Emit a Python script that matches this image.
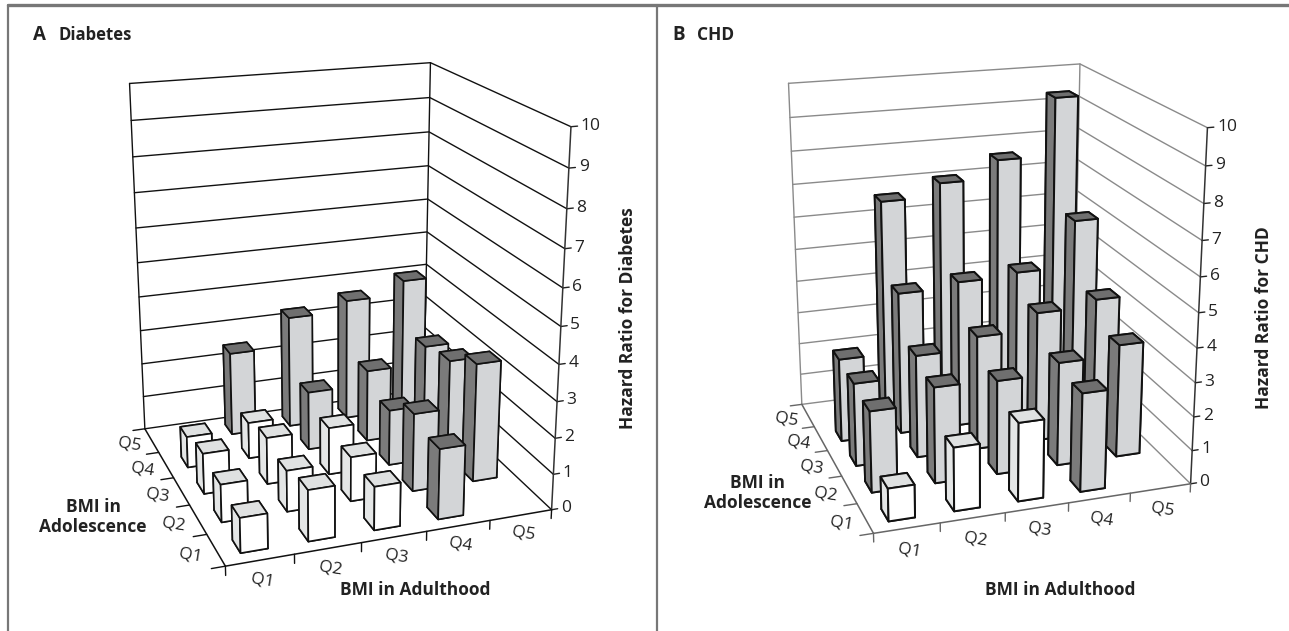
import numpy as np, matplotlib
matplotlib.use('Agg')
import matplotlib.pyplot as plt, seaborn as sns
from matplotlib.lines import Line2D
from mpl_toolkits.mplot3d import proj3d
sns.set_theme(style='white')
plt.rcParams['font.family']=['Open Sans','DejaVu Sans']
W,H=1289,631
adult_labels=['Q1','Q2','Q3','Q4','Q5']
adol_labels=['Q1','Q2','Q3','Q4','Q5']
z_ticks=list(range(11))
nan=np.nan
# rows: BMI in adulthood Q1..Q5; columns: BMI in adolescence Q1..Q5
diabetes=[[.95,1.05,1.15,.9,nan],[1.4,1.15,1.33,1.05,2.45],[1.2,1.25,1.35,1.7,3.3],[1.95,2.2,1.6,2.1,3.6],[nan,3.35,2.8,2.6,4.0]]
chd=[[.95,2.4,2.5,2.55,nan],[1.85,2.85,3.1,4.35,6.6],[2.3,2.8,3.45,4.5,7.0],[2.9,3.1,3.95,4.6,7.55],[nan,3.4,4.15,6.0,9.3]]
diabetes_sig=[[0,0,0,0,0],[0,0,0,0,1],[0,0,0,1,1],[1,1,1,1,1],[0,1,1,1,1]]
chd_sig=[[0,1,1,1,0],[0,1,1,1,1],[0,1,1,1,1],[1,1,1,1,1],[0,1,1,1,1]]
gray_faces=['#888888','#6f6f6f','#d3d5d7','#888888','#7b7b7b','#888888']
white_faces=['#eeeeee','#dfe1e1','#ffffff','#eeeeee','#e4e6e6','#eeeeee']
fig=plt.figure(figsize=(W/100,H/100),dpi=100)
def panel(view,box,vals,sig,wall,floor,front_z,left_x,edge_lw):
    el,az,lf,a,b=view
    L,Ytop,S=box
    ax=fig.add_axes([L/W,1-(Ytop+S)/H,S/W,S/H],projection='3d')
    ax.view_init(el,az);ax.set_proj_type('persp',focal_length=np.exp(lf));ax.set_box_aspect((a,b,1))
    ax.set_axis_off();ax.computed_zorder=False
    ax.set_xlim(0,5);ax.set_ylim(0,5);ax.set_zlim(0,10)
    M=ax.get_proj()
    def label(x,y,z,s,**k):
        xp,yp,_=proj3d.proj_transform(x,y,z,M)
        ax.text2D(float(xp),float(yp),s,transform=ax.transData,fontsize=12.5,color='#222',va='center',zorder=50,**k)
    for z in z_ticks:
        ax.plot([0,5,5],[5,5,0],[z,z,z],color=wall,lw=1,zorder=1)
        ax.plot([5,5.1],[0,0],[z,z],color='#222',lw=1,zorder=1)
        label(5.15,0,z,str(z),ha='left')
    ax.plot([5,5],[0,0],[0,10],color='#333',lw=1.1,zorder=1)
    ax.plot([5,5],[5,5],[0,10],color=wall,lw=1,zorder=1)
    ax.plot([0,0],[5,5],[0,10],color=wall,lw=1,zorder=1)
    ax.plot([0,5],[0,0],[0,0],color=floor,lw=1.1,zorder=1)
    ax.plot([0,0],[0,5],[0,0],color=floor,lw=1.1,zorder=1)
    for i in range(6):
        ax.plot([i,i],[0,0],[0,-.25],color=floor,lw=1,zorder=1)
        ax.plot([0,-.2],[i,i],[0,0],color=floor,lw=1,zorder=1)
    for i,t in enumerate(adult_labels):
        label(i+.5,-.1,front_z,t,ha='center',rotation=-9)
    for j,t in enumerate(adol_labels):
        label(left_x,j+.5,-.03,t,ha='center',rotation=-9)
    n=2
    for j in range(4,-1,-1):
        for i in range(4,-1,-1):
            h=vals[i][j]
            if np.isnan(h): continue
            n+=1
            c=gray_faces if sig[i][j] else white_faces
            ax.bar3d(i+.3,j+.29,0,.4,.42,h,color=c,edgecolor='#111',linewidth=edge_lw,shade=False,zorder=n)
    ax.set_xlim(0,5);ax.set_ylim(0,5);ax.set_zlim(0,10)
    return ax
panel((19.194,-109.691,-.71,.865,.844),(36.5,8.3,584.7),diabetes,diabetes_sig,'#111','#111',-.45,-.37,1.2)
panel((18.995,-108.448,-.65,.897,.872),(700.5,9.5,554.5),chd,chd_sig,'#8a8a8a','#666',-.55,-.36,1.4)
def T(x,y,s,**k):
    fig.text(x/W,1-y/H,s,color='#222',**k)
T(33,35,'A',fontsize=13.5,fontweight='bold',ha='left',va='center')
T(58,35,'Diabetes',fontsize=12,fontweight='bold',ha='left',va='center')
T(672,35,'B',fontsize=13.5,fontweight='bold',ha='left',va='center')
T(697,35,'CHD',fontsize=12.5,fontweight='bold',ha='left',va='center')
for x,s in ((415,'BMI in Adulthood'),(1060,'BMI in Adulthood')):
    T(x,590,s,fontsize=12.5,fontweight='bold',ha='center',va='center')
for x,y in ((93,517),(758,493)):
    T(x,y,'BMI in\nAdolescence',fontsize=12.5,fontweight='bold',ha='center',va='center',linespacing=1.15)
T(628,318,'Hazard Ratio for Diabetes',fontsize=12.5,fontweight='bold',rotation=90,ha='center',va='center')
T(1264,318,'Hazard Ratio for CHD',fontsize=12.5,fontweight='bold',rotation=90,ha='center',va='center')
for xs,ys,lw in (([8,1289],[5,5],2.4),([8,8],[5,631],1.6),([657,657],[5,631],1.6)):
    fig.add_artist(Line2D([x/W for x in xs],[1-y/H for y in ys],color='#777',lw=lw))
fig.savefig('out.png',dpi=100)
